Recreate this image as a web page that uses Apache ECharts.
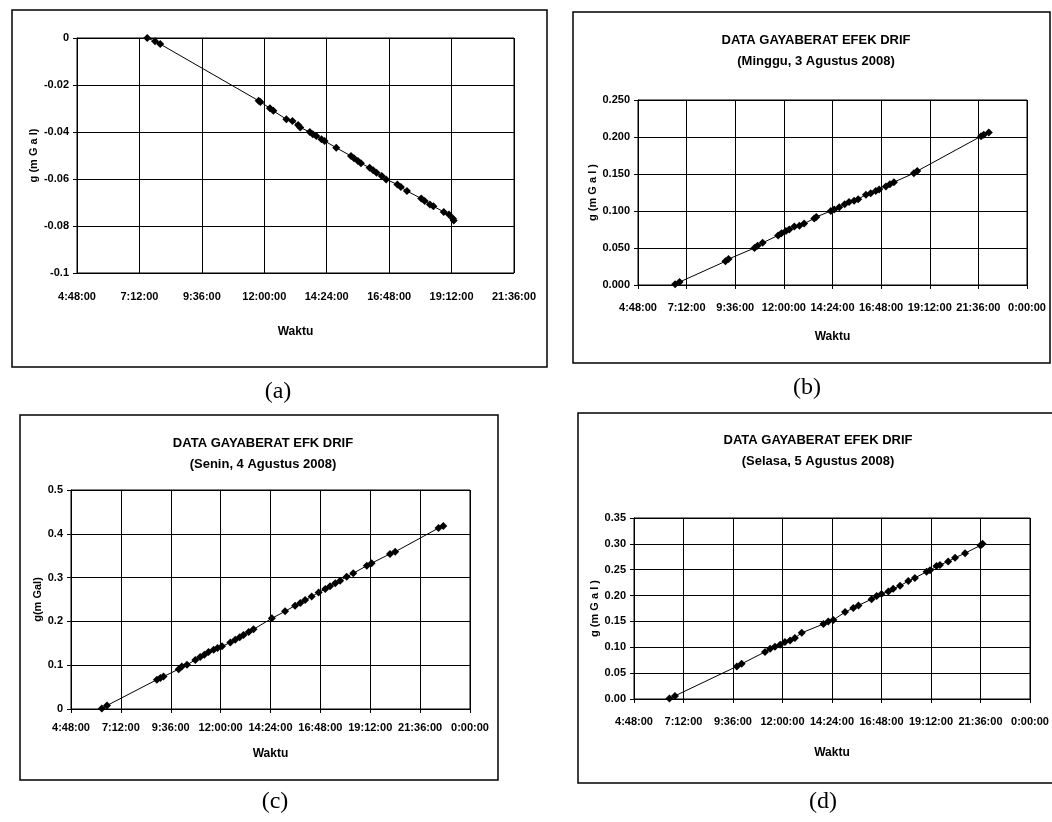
<!DOCTYPE html>
<html>
<head>
<meta charset="utf-8">
<script src="https://cdn.jsdelivr.net/npm/echarts@6/dist/echarts.min.js"></script>
<style>
html,body{margin:0;padding:0;background:#fff;}
#chart{width:1052px;height:822px;}
</style>
</head>
<body>
<div id="chart"></div>
<script>
// ---------- DATA ----------
const xTickLabels = ["4:48:00","7:12:00","9:36:00","12:00:00","14:24:00","16:48:00","19:12:00","21:36:00","0:00:00"];

// (a)
const aTime = ["7:30","7:48","8:00","11:47","11:51","12:13","12:21","12:51","13:05","13:18","13:23","13:45","13:52","14:00","14:12","14:19","14:46","15:20","15:27","15:36","15:43","16:03","16:11","16:19","16:31","16:41","17:07","17:15","17:29","18:02","18:10","18:22","18:30","18:54","19:06","19:15","19:17"];
const aG = [0.000,-0.0014,-0.0026,-0.0267,-0.0272,-0.0299,-0.0310,-0.0346,-0.0353,-0.0370,-0.0381,-0.0400,-0.0410,-0.0417,-0.0431,-0.0438,-0.0467,-0.0502,-0.0512,-0.0523,-0.0533,-0.0552,-0.0563,-0.0573,-0.0587,-0.0602,-0.0623,-0.0634,-0.0651,-0.0683,-0.0694,-0.0708,-0.0716,-0.0740,-0.0751,-0.0768,-0.0777];

// (b) Minggu, 3 Agustus 2008
const bTime = ["6:38","6:51","9:07","9:16","10:33","10:42","10:57","11:43","11:53","12:06","12:16","12:31","12:46","13:00","13:30","13:36","14:19","14:29","14:44","15:00","15:13","15:28","15:40","16:03","16:17","16:32","16:42","17:02","17:14","17:26","18:25","18:35","21:44","21:52","22:07"];
const bG = [0.001,0.004,0.032,0.035,0.050,0.053,0.057,0.067,0.070,0.073,0.075,0.079,0.080,0.083,0.090,0.092,0.100,0.102,0.105,0.109,0.112,0.114,0.116,0.122,0.124,0.127,0.129,0.133,0.136,0.139,0.151,0.154,0.201,0.203,0.206];

// (c) Senin, 4 Agustus 2008
const cTime = ["6:17","6:32","8:56","9:06","9:15","9:59","10:08","10:23","10:47","11:01","11:13","11:25","11:40","11:51","12:04","12:28","12:42","12:55","13:06","13:21","13:35","14:28","15:06","15:35","15:50","16:04","16:23","16:43","17:02","17:16","17:31","17:45","18:04","18:23","19:02","19:16","20:09","20:24","22:29","22:43"];
const cG = [0.001,0.008,0.067,0.071,0.074,0.091,0.097,0.101,0.112,0.119,0.124,0.130,0.135,0.139,0.143,0.152,0.158,0.164,0.169,0.176,0.182,0.207,0.223,0.236,0.242,0.249,0.257,0.266,0.274,0.280,0.287,0.293,0.302,0.310,0.327,0.333,0.354,0.359,0.413,0.418];

// (d) Selasa, 5 Agustus 2008
const dTime = ["6:31","6:47","9:47","10:01","11:09","11:24","11:38","11:53","12:07","12:22","12:36","12:56","13:59","14:13","14:28","15:02","15:26","15:41","16:19","16:34","16:48","17:08","17:22","17:42","18:06","18:25","18:59","19:09","19:28","19:38","20:02","20:22","20:51","21:36","21:42"];
const dG = [0.001,0.006,0.063,0.068,0.091,0.097,0.101,0.105,0.110,0.113,0.118,0.128,0.145,0.150,0.153,0.168,0.176,0.181,0.193,0.199,0.203,0.208,0.213,0.219,0.228,0.234,0.246,0.249,0.257,0.259,0.266,0.273,0.282,0.297,0.300];

const titleMain = ["DATA GAYABERAT EFEK DRIF","DATA GAYABERAT EFK DRIF","DATA GAYABERAT EFEK DRIF"];
const titleSub = ["(Minggu, 3 Agustus 2008)","(Senin, 4 Agustus 2008)","(Selasa, 5 Agustus 2008)"];
const yNames = ["g (m G a l)","g (m G a l )","g(m Gal)","g (m G a l )"];
const xName = "Waktu";
const panelLabels = ["(a)","(b)","(c)","(d)"];

// ---------- HELPERS ----------
function toMin(s){const p=s.split(":");return (+p[0])*60+(+p[1]);}
function pairs(t,g){return t.map((s,i)=>[toMin(s),g[i]]);}
const tickStart = toMin(xTickLabels[0]);
const tickStep = toMin(xTickLabels[1]) - tickStart;
function fmtX(v){
  const idx = Math.round((v - tickStart)/tickStep);
  return xTickLabels[idx] !== undefined ? xTickLabels[idx] : '';
}

const FONT = "'Liberation Sans','Arial',sans-serif";
const lab = {color:'#000',fontFamily:FONT,fontWeight:'bold',fontSize:11};

const grids = [
  {left:77, top:38, width:437, height:235},
  {left:638, top:100, width:389, height:185},
  {left:71, top:490, width:399, height:219},
  {left:634, top:518, width:396, height:181}
];
grids.forEach(g=>{g.show=true;g.borderColor='#000';g.borderWidth=1;g.backgroundColor='transparent';});

const xMax = [tickStart+7*tickStep, tickStart+8*tickStep, tickStart+8*tickStep, tickStart+8*tickStep];
const xLabelMargin = [18,17,13,17];
const xNameGap = [53,46,39,48];

const xAxes = grids.map((g,i)=>({
  gridIndex:i, type:'value', min:tickStart, max:xMax[i], interval:tickStep,
  axisLine:{show:true,lineStyle:{color:'#000',width:1}},
  axisTick:{show:true,length:4,lineStyle:{color:'#000'}},
  splitLine:{show:true,lineStyle:{color:'#000',width:1}},
  axisLabel:Object.assign({formatter:fmtX,margin:xLabelMargin[i],interval:0,hideOverlap:false,showMaxLabel:true,showMinLabel:true},lab),
  name:xName, nameLocation:'middle', nameGap:xNameGap[i],
  nameTextStyle:{color:'#000',fontFamily:FONT,fontWeight:'bold',fontSize:12}
}));

const yCfg = [
  {min:-0.1,max:0,interval:0.02,dec:2,strip:true,gap:38},
  {min:0,max:0.25,interval:0.05,dec:3,strip:false,gap:36},
  {min:0,max:0.5,interval:0.1,dec:1,strip:true,gap:26},
  {min:0,max:0.35,interval:0.05,dec:2,strip:false,gap:34}
];
const yAxes = yCfg.map((c,i)=>({
  gridIndex:i, type:'value', min:c.min, max:c.max, interval:c.interval,
  axisLine:{show:true,lineStyle:{color:'#000',width:1}},
  axisTick:{show:true,length:4,lineStyle:{color:'#000'}},
  splitLine:{show:true,lineStyle:{color:'#000',width:1}},
  axisLabel:Object.assign({margin:8,formatter:v=>{const s=(+v).toFixed(c.dec);return c.strip?String(+s):s;}},lab),
  name:yNames[i], nameLocation:'middle', nameGap:c.gap, nameRotate:90,
  nameTextStyle:{color:'#000',fontFamily:FONT,fontWeight:'bold',fontSize:11}
}));

const datasets = [pairs(aTime,aG),pairs(bTime,bG),pairs(cTime,cG),pairs(dTime,dG)];
const series = datasets.map((d,i)=>({
  type:'line', xAxisIndex:i, yAxisIndex:i, data:d,
  symbol:'diamond', symbolSize:8, showAllSymbol:true,
  lineStyle:{color:'#000',width:1}, itemStyle:{color:'#000'},
  animation:false
}));

const titlePos = [{x:811,y:29},{x:258,y:432},{x:813,y:429}];
const titles = titlePos.map((p,i)=>({
  text:titleMain[i], subtext:titleSub[i], left:p.x, top:p.y, textAlign:'center', itemGap:8,
  textStyle:{color:'#000',fontFamily:FONT,fontWeight:'bold',fontSize:13},
  subtextStyle:{color:'#000',fontFamily:FONT,fontWeight:'bold',fontSize:13}
}));

const frames = [
  {x:12,y:10,w:535,h:357},
  {x:573,y:12,w:477,h:351},
  {x:20,y:415,w:478,h:365},
  {x:578,y:413,w:490,h:370}
];
const labelPos = [{x:278,y:392},{x:807,y:388},{x:275,y:802},{x:823,y:802}];
const graphics = [];
frames.forEach(f=>graphics.push({type:'rect',shape:{x:f.x,y:f.y,width:f.w,height:f.h},style:{fill:'none',stroke:'#000',lineWidth:1.5},silent:true,z:-1}));
labelPos.forEach((p,i)=>graphics.push({type:'text',x:p.x,y:p.y,style:{text:panelLabels[i],fill:'#000',font:"24px 'Liberation Serif','DejaVu Serif',serif",textAlign:'center',textVerticalAlign:'middle'}}));

const chart = echarts.init(document.getElementById('chart'),null,{renderer:'canvas'});
chart.setOption({
  backgroundColor:'#fff',
  animation:false,
  title:titles,
  grid:grids,
  xAxis:xAxes,
  yAxis:yAxes,
  series:series,
  graphic:graphics
});
</script>
</body>
</html>
